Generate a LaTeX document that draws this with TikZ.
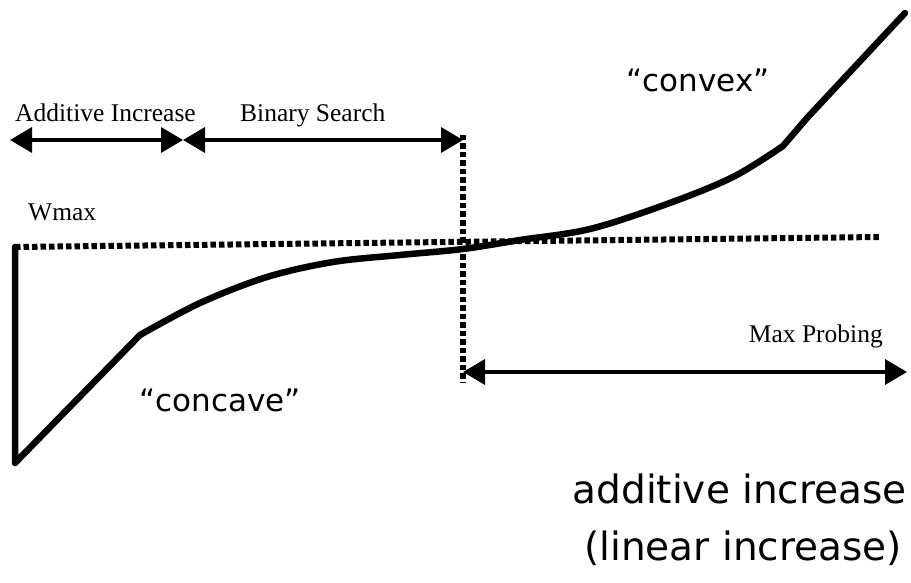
\documentclass[tikz,border=0pt]{standalone}
\usepackage{fontspec}
\setmainfont{Liberation Serif}
\newfontfamily\comicfont{DejaVu Sans}
\usetikzlibrary{arrows.meta}
\begin{document}
\begin{tikzpicture}[x=1pt,y=-1pt,
  dotline/.style={line width=6pt,dash pattern=on 5.5pt off 3pt},
  solidline/.style={line width=6.5pt,line join=round,line cap=round},
  dimarrow/.style={line width=3.5pt,{Triangle[length=22pt,width=25pt]}-{Triangle[length=22pt,width=25pt]}},
  serlabel/.style={inner sep=0pt,font=\fontsize{25.5}{30}\selectfont},
  comiclabel/.style={inner sep=0pt,font=\comicfont\fontsize{31}{36}\selectfont},
  biglabel/.style={inner sep=0pt,font=\comicfont\fontsize{39}{46}\selectfont}]
\useasboundingbox[fill=white] (0,0) rectangle (911,583);

% coordinates
\coordinate (ailft) at (10,140);
\coordinate (aimid) at (183,140);
\coordinate (bsrgt) at (463,140);
\coordinate (vtop) at (463,135);
\coordinate (vbot) at (463,383);
\coordinate (mplft) at (463,372);
\coordinate (mprgt) at (907,372);
\coordinate (wl) at (15,247);
\coordinate (wr) at (880,237);
\coordinate (lowpt) at (15,463);
\coordinate (kinka) at (140,335);
\coordinate (kinkb) at (783,146);
\coordinate (topend) at (905,13);

% dotted lines
\draw[dotline] (wl) -- (wr);
\draw[dotline] (vtop) -- (vbot);

% window curve
\draw[solidline] (wl) -- (lowpt) -- (kinka);
\draw[solidline] plot[smooth,tension=0.55] coordinates {(140,335) (200,303) (267,277) (333,262)
  (400,255) (463,249) (520,240) (590,229) (667,204) (733,177) (783,146)};
\draw[solidline] (kinkb) -- (807,118) -- (topend);

% arrows
\draw[dimarrow] (ailft) -- (aimid);
\draw[dimarrow] (aimid) -- (bsrgt);
\draw[dimarrow] (mplft) -- (mprgt);

% labels
\node[serlabel,anchor=base west] (lai) at (15,122) {Additive Increase};
\node[serlabel,anchor=base west] (lbs) at (240,122) {Binary Search};
\node[serlabel,anchor=base west] (lw) at (28,221) {Wmax};
\node[serlabel,anchor=base east] (lmp) at (883,342) {Max Probing};
\node[comiclabel] (lcc) at (220,400) {“concave”};
\node[comiclabel] (lcv) at (698,80) {“convex”};
\node[biglabel,anchor=base east] (lb1) at (907,503) {additive increase};
\node[biglabel,anchor=base east] (lb2) at (902,560) {(linear increase)};
\end{tikzpicture}
\end{document}
